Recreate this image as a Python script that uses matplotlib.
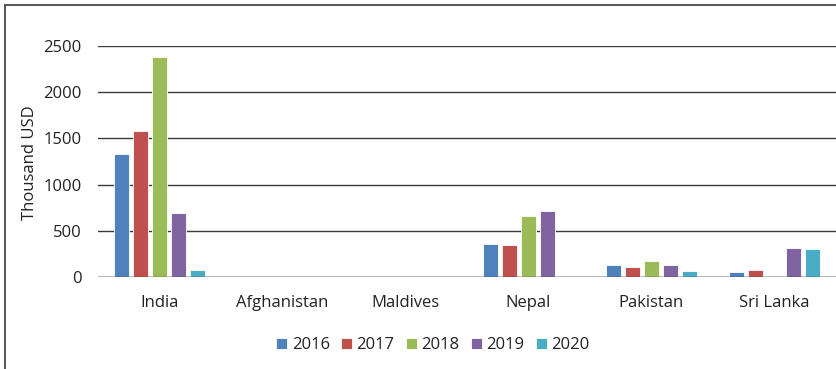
import numpy as np
import matplotlib.pyplot as plt
from matplotlib.lines import Line2D

plt.rcParams['font.family'] = ['Open Sans', 'DejaVu Sans']

countries = ["India", "Afghanistan", "Maldives", "Nepal", "Pakistan", "Sri Lanka"]
years = ["2016", "2017", "2018", "2019", "2020"]

# thousand USD per country, one list per year
v2016 = [1328, 0, 0, 355, 128, 56]
v2017 = [1575, 0, 0, 348, 110, 80]
v2018 = [2382, 0, 0, 662, 173, 0]
v2019 = [691, 0, 0, 710, 130, 312]
v2020 = [74, 0, 0, 0, 65, 308]
series = [v2016, v2017, v2018, v2019, v2020]

colors = ["#4F81BD", "#C0504D", "#9BBB59", "#8064A2", "#4BACC6"]
yticks = [0, 500, 1000, 1500, 2000, 2500]

fig = plt.figure(figsize=(8.36, 3.69), dpi=100)
ax = fig.add_axes([98 / 836, 1 - 277 / 369, 1 - 98 / 836, (277 - 46) / 369])

x = np.arange(len(countries))
slot = 0.154
for i, (vals, c, yr) in enumerate(zip(series, colors, years)):
    ax.bar(x + (i - 2) * slot, vals, width=slot * 0.82, color=c,
           edgecolor="white", linewidth=0.6, label=yr, zorder=2)

ax.set_xlim(-0.5, len(countries) - 0.5)
ax.set_ylim(0, 2500)
ax.set_yticks(yticks)
ax.set_xticks(x)
ax.set_xticklabels(countries)
ax.tick_params(axis="both", length=0, labelsize=12, colors="#222222")
ax.tick_params(axis="y", pad=12)
ax.tick_params(axis="x", pad=13)
ax.yaxis.grid(True, color="#3a3a3a", linewidth=1.0)
ax.set_axisbelow(True)
ax.axhline(0, color="#3a3a3a", linewidth=1.0, zorder=3)
for s in ax.spines.values():
    s.set_visible(False)

fig.text(30 / 836, 1 - 163 / 369, "Thousand USD", rotation=90,
         ha="center", va="center", fontsize=12, color="#222222")

fig.legend(loc="center", bbox_to_anchor=(433 / 836, 1 - 345 / 369), ncol=5,
           frameon=False, fontsize=12, handlelength=0.66, handleheight=0.66,
           handletextpad=0.25, columnspacing=0.7, labelcolor="#222222")

# outer frame (top and left edges)
fig.add_artist(Line2D([5 / 836, 1], [1 - 5 / 369, 1 - 5 / 369],
                      transform=fig.transFigure, color="#5a5a5a", linewidth=1.5))
fig.add_artist(Line2D([5 / 836, 5 / 836], [0, 1 - 5 / 369],
                      transform=fig.transFigure, color="#5a5a5a", linewidth=1.5))

fig.savefig("out.png", dpi=100)
